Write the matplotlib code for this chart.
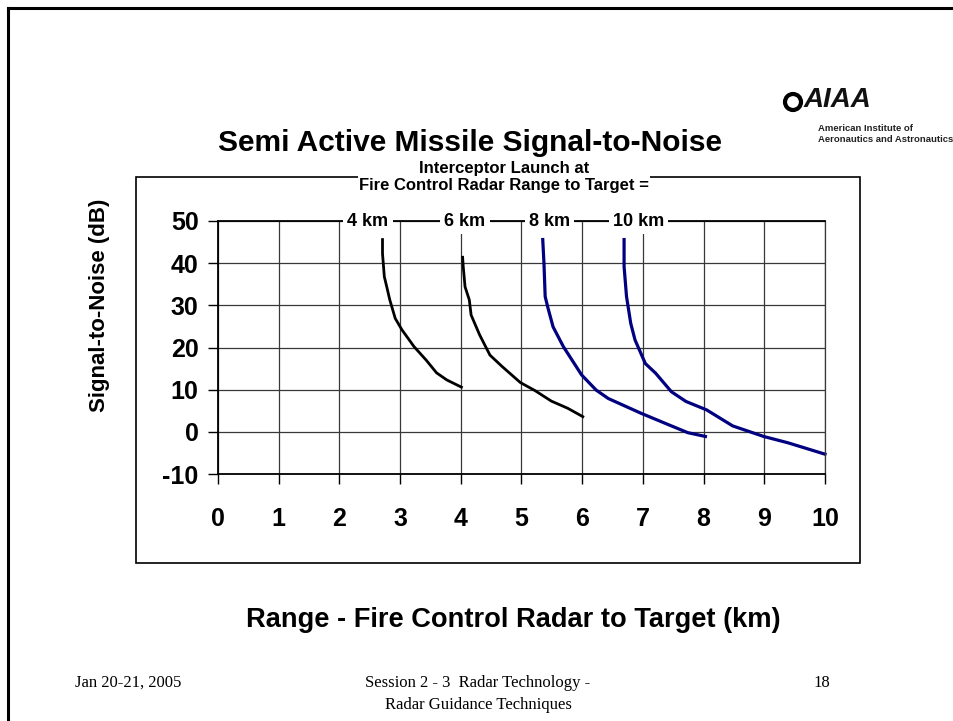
import numpy as np
import matplotlib.pyplot as plt
from matplotlib.patches import Rectangle, Ellipse
from matplotlib.lines import Line2D

# launch ranges and curve samples
launch_labels = ['4 km', '6 km', '8 km', '10 km']
label_x = [2.47, 4.07, 5.46, 6.93]

x_4km = [2.71, 2.71, 2.74, 2.78, 2.83, 2.92, 3.03, 3.23, 3.43, 3.60, 3.77, 4.01]
y_4km = [45.6, 42.3, 36.8, 34.4, 31.3, 26.9, 24.2, 20.2, 17.0, 14.0, 12.3, 10.6]

x_6km = [4.03, 4.04, 4.07, 4.14, 4.17, 4.31, 4.48, 4.68, 4.98, 5.22, 5.49, 5.76, 6.01]
y_6km = [41.4, 39.2, 34.4, 31.3, 27.7, 23.0, 18.2, 15.5, 11.7, 9.8, 7.3, 5.6, 3.6]

x_8km = [5.35, 5.37, 5.39, 5.43, 5.52, 5.69, 5.99, 6.23, 6.43, 6.97, 7.37, 7.74, 8.03]
y_8km = [45.6, 40.0, 32.1, 29.7, 24.9, 20.2, 13.5, 9.9, 7.9, 4.4, 2.0, -0.2, -1.1]

x_10km = [6.69, 6.69, 6.73, 6.80, 6.87, 7.04, 7.21, 7.47, 7.71, 8.05, 8.48, 8.99, 9.39, 10.0]
y_10km = [45.6, 39.2, 32.1, 25.7, 21.8, 16.2, 13.9, 9.5, 7.2, 5.2, 1.4, -1.1, -2.6, -5.3]

x_ticks = list(range(0, 11))
y_ticks = [-10, 0, 10, 20, 30, 40, 50]

W, H = 954, 721
plt.rcParams['font.family'] = ['Liberation Sans', 'DejaVu Sans']
plt.rcParams['axes.unicode_minus'] = False
fig = plt.figure(figsize=(W / 100, H / 100), dpi=100)

def fx(px):
    return px / W

def fy(py):
    return 1 - py / H

# slide frame (top and left edges only visible)
fig.add_artist(Line2D([fx(8), 1], [fy(8), fy(8)], color='black', lw=2.2, transform=fig.transFigure))
fig.add_artist(Line2D([fx(8), fx(8)], [0, fy(8)], color='black', lw=2.2, transform=fig.transFigure))

# chart box
fig.add_artist(Rectangle((fx(136), fy(563)), fx(860) - fx(136), fy(177) - fy(563),
                         fill=False, edgecolor='black', lw=1.2, transform=fig.transFigure, zorder=1))

ax = fig.add_axes([fx(218), fy(474), fx(825) - fx(218), fy(221) - fy(474)])
ax.set_xlim(0, 10)
ax.set_ylim(-10, 50)
ax.set_xticks(x_ticks)
ax.set_yticks(y_ticks)
ax.grid(True, color='#383838', lw=0.9)
ax.set_axisbelow(True)
ax.spines['top'].set_linewidth(1.3)
ax.spines['right'].set_linewidth(0.9)
ax.spines['right'].set_color('#383838')
for s in ['left', 'bottom']:
    ax.spines[s].set_linewidth(1.3)
ax.tick_params(axis='both', direction='out', length=7, width=1, colors='black', labelsize=18)
ax.tick_params(axis='x', pad=17)
ax.tick_params(axis='y', pad=7)
for lab in ax.get_xticklabels() + ax.get_yticklabels():
    lab.set_fontweight('bold')

ax.plot(x_4km, y_4km, color='black', lw=2.0, clip_on=False)
ax.plot(x_6km, y_6km, color='black', lw=2.0, clip_on=False)
ax.plot(x_8km, y_8km, color='#000080', lw=2.3, clip_on=False)
ax.plot(x_10km, y_10km, color='#000080', lw=2.3, clip_on=False)

for lx, lt in zip(label_x, launch_labels):
    ax.text(lx, 50, lt, ha='center', va='center', fontsize=13, fontweight='bold',
            bbox=dict(facecolor='white', edgecolor='none', pad=3), clip_on=False, zorder=5)

# chart title on top of the box border
fig.text(fx(504), fy(177), 'Interceptor Launch at\nFire Control Radar Range to Target =',
         ha='center', va='center', fontsize=12, fontweight='bold', linespacing=1.15,
         bbox=dict(facecolor='white', edgecolor='none', pad=1), zorder=3)

fig.text(fx(100), fy(305), 'Signal-to-Noise (dB)', rotation=90, ha='center', va='center',
         fontsize=16, fontweight='bold')
fig.text(fx(513), fy(620), 'Range - Fire Control Radar to Target (km)', ha='center', va='center',
         fontsize=19.6, fontweight='bold')

fig.text(fx(470), fy(143), 'Semi Active Missile Signal-to-Noise', ha='center', va='center',
         fontsize=21.5, fontweight='bold', zorder=4)

# AIAA logo approximation
fig.add_artist(Ellipse((fx(793), fy(102)), 16 / W, 16 / H, fill=False, edgecolor='black', lw=3,
                       transform=fig.transFigure))
fig.text(fx(804), fy(100), 'AIAA', ha='left', va='center', fontsize=20, fontweight='heavy',
         fontstyle='italic', color='#111111')
fig.text(fx(818), fy(134), 'American Institute of\nAeronautics and Astronautics', ha='left', va='center',
         fontsize=6.8, fontweight='bold', color='#222222', linespacing=1.35)

# footer
serif = ['Liberation Serif', 'DejaVu Serif']
fig.text(fx(75), fy(683), 'Jan 20-21, 2005', ha='left', va='center', fontsize=12, family=serif)
fig.text(fx(478), fy(694), 'Session 2 - 3  Radar Technology -\nRadar Guidance Techniques', ha='center',
         va='center', fontsize=12, family=serif, linespacing=1.45)
fig.text(fx(822), fy(683), '18', ha='center', va='center', fontsize=12, family=serif)

fig.savefig('out.png', dpi=100)
